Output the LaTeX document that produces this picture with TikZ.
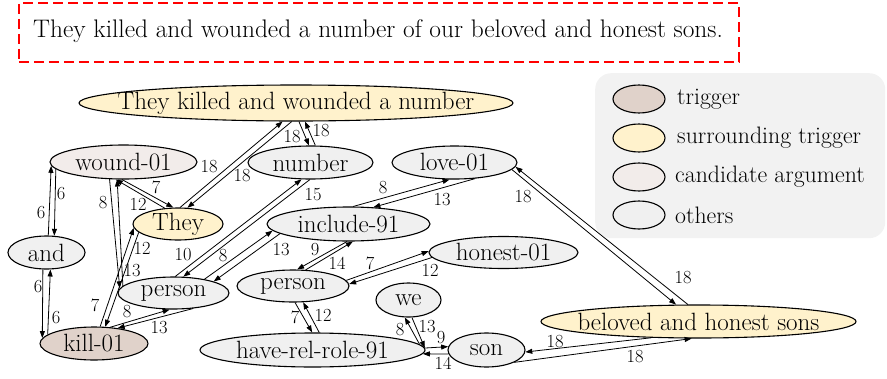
\documentclass[tikz,border=0pt]{standalone}
\usepackage{fontspec}
\usetikzlibrary{shapes.geometric,arrows.meta}

\definecolor{trig}{HTML}{E0D2CA}
\definecolor{surr}{HTML}{FFF2CC}
\definecolor{cand}{HTML}{F2ECEA}
\definecolor{oth}{HTML}{F0F0F0}
\definecolor{legbg}{HTML}{F2F2F2}

\newcommand\bigtxt{\fontsize{25}{29}\selectfont}
\newcommand\senttxt{\fontsize{25.4}{29}\selectfont}
\newcommand\legfont{\fontsize{23.8}{27}\selectfont}
\newcommand\smalltxt{\fontsize{18.5}{21}\selectfont}

\tikzset{
  amr/.style={ellipse, draw=black, line width=1.1pt, inner sep=0pt},
  sz/.style 2 args={minimum width=#1pt, minimum height=#2pt},
  edge/.style={-{Triangle[length=7pt,width=5pt]}, line width=0.8pt, black},
  elab/.style={font=\smalltxt, inner sep=0pt},
  legtxt/.style={anchor=west, inner sep=0pt, font=\legfont},
  every label/.style={font=\bigtxt},
}

\begin{document}
\begin{tikzpicture}[x=1pt, y=-1pt, font=\bigtxt]
\useasboundingbox (0,0) rectangle (887,378);

% sentence box
\node[draw=red, line width=1.6pt, dash pattern=on 10pt off 5pt, anchor=north west,
      minimum width=720pt, minimum height=59pt, inner sep=0pt] (sentbox) at (18,2) {};
\node[anchor=west, inner sep=0pt, font=\senttxt] (sent) at (33,31)
  {They killed and wounded a number of our beloved and honest sons.};

% legend
\node[fill=legbg, rounded corners=16pt, anchor=north west, minimum width=290pt,
      minimum height=165pt, inner sep=0pt] (legend) at (595,73) {};
\node[amr, fill=trig, sz={52}{28}] (lk1) at (639,99) {};
\node[amr, fill=surr, sz={52}{28}] (lk2) at (639,138) {};
\node[amr, fill=cand, sz={52}{28}] (lk3) at (639,177) {};
\node[amr, fill=oth,  sz={52}{28}] (lk4) at (639,215) {};
\node[legtxt] (lt1) at (677,99) {trigger};
\node[legtxt] (lt2) at (677,138) {surrounding trigger};
\node[legtxt] (lt3) at (675,177) {candidate argument};
\node[legtxt] (lt4) at (675,215) {others};

% graph nodes
\node[amr, fill=surr, sz={434}{36}, label=center:{They killed and wounded a number}] (tk) at (296,103) {};
\node[amr, fill=cand, sz={147}{34}, label=center:{wound-01}] (wound) at (123.5,162) {};
\node[amr, fill=surr, sz={90}{32},  label=center:{They}] (They) at (178,224) {};
\node[amr, fill=oth,  sz={77}{33},  label=center:{and}] (and) at (46.5,252.5) {};
\node[amr, fill=trig, sz={108}{33}, label=center:{kill-01}] (kill) at (94,343.5) {};
\node[amr, fill=oth,  sz={111}{32}, label=center:{person}] (pL) at (173.5,293) {};
\node[amr, fill=oth,  sz={125}{33}, label=center:{number}] (number) at (310.5,162.5) {};
\node[amr, fill=oth,  sz={125}{33}, label=center:{love-01}] (love) at (454.5,162.5) {};
\node[amr, fill=oth,  sz={163}{34}, label=center:{include-91}] (incl) at (348.5,224) {};
\node[amr, fill=oth,  sz={112}{32}, label=center:{person}] (pM) at (293,286) {};
\node[amr, fill=oth,  sz={149}{32}, label=center:{honest-01}] (honest) at (503.5,252.5) {};
\node[amr, fill=oth,  sz={65}{34},  label=center:{we}] (we) at (408.5,300) {};
\node[amr, fill=oth,  sz={225}{34}, label=center:{have-rel-role-91}] (have) at (312.5,350) {};
\node[amr, fill=oth,  sz={77}{34},  label=center:{son}] (son) at (486.5,350) {};
\node[amr, fill=surr, sz={315}{33}, label=center:{beloved and honest sons}] (bel) at (698.5,321.5) {};

% edges, one pair per relation
\draw[edge] (and.84.8) -- (wound.183.1);
\draw[edge] (wound.186.7) -- (and.65.6);
\draw[edge] (and.258) -- (kill.174.2);
\draw[edge] (kill.169) -- (and.283.7);
\draw[edge] (They.83.3) -- (tk.234.2);
\draw[edge] (tk.257.5) -- (They.60.6);
\draw[edge] (tk.279.5) -- (number.95.2);
\draw[edge] (number.74.7) -- (tk.296.6);
\draw[edge] (They.130.6) -- (wound.246.2);
\draw[edge] (wound.265.2) -- (They.106.4);
\draw[edge] (wound.231.5) -- (pL.175.8);
\draw[edge] (pL.172.1) -- (wound.250.1);
\draw[edge] (kill.70) -- (They.185.4);
\draw[edge] (They.192.2) -- (kill.56);
\draw[edge] (kill.45) -- (pL.257.7);
\draw[edge] (pL.322.4) -- (kill.33.1);
\draw[edge] (pL.84.6) -- (number.242.7);
\draw[edge] (number.268.3) -- (pL.59.3);
\draw[edge] (pL.24.6) -- (incl.185.7);
\draw[edge] (incl.188.8) -- (pL.16.6);
\draw[edge] (incl.75.2) -- (love.254.7);
\draw[edge] (love.322.7) -- (incl.34.7);
\draw[edge] (bel.122.5) -- (love.356.8);
\draw[edge] (love.353.7) -- (bel.143.7);
\draw[edge] (incl.265) -- (pM.76);
\draw[edge] (pM.52.4) -- (incl.284.8);
\draw[edge] (pM.6) -- (honest.179.5);
\draw[edge] (honest.184) -- (pM.2);
\draw[edge] (pM.277.1) -- (have.91.7);
\draw[edge] (have.69.1) -- (pM.302.5);
\draw[edge] (have.3.5) -- (we.258.4);
\draw[edge] (we.281.6) -- (have.1);
\draw[edge] (have.1.5) -- (son.175.5);
\draw[edge] (son.186.1) -- (have.358.5);
\draw[edge] (bel.199.2) -- (son.357);
\draw[edge] (son.336.6) -- (bel.248.5);

% edge labels
\node[elab] (l1a) at (41,213) {6};
\node[elab] (l1b) at (61,194) {6};
\node[elab] (l2a) at (38,287) {6};
\node[elab] (l2b) at (56,318) {6};
\node[elab] (l3a) at (209,167) {18};
\node[elab] (l3b) at (242,176) {18};
\node[elab] (l4a) at (292,137) {18};
\node[elab] (l4b) at (321,131) {18};
\node[elab] (l5a) at (156,187) {7};
\node[elab] (l5b) at (138,204) {12};
\node[elab] (l6a) at (103,203) {8};
\node[elab] (l6b) at (132,271) {13};
\node[elab] (l7a) at (142,248) {12};
\node[elab] (l7b) at (95,305) {7};
\node[elab] (l8a) at (127,312) {8};
\node[elab] (l8b) at (159,328) {13};
\node[elab] (l9a) at (183,255) {10};
\node[elab] (l9b) at (313,195) {15};
\node[elab] (l10a) at (223,256) {8};
\node[elab] (l10b) at (281,250) {13};
\node[elab] (l11a) at (383,188) {8};
\node[elab] (l11b) at (442,200) {13};
\node[elab] (l12a) at (523,197) {18};
\node[elab] (l12b) at (683,278) {18};
\node[elab] (l13a) at (315,250) {9};
\node[elab] (l13b) at (337,263) {14};
\node[elab] (l14a) at (370,263) {7};
\node[elab] (l14b) at (430,270) {12};
\node[elab] (l15a) at (295,317) {7};
\node[elab] (l15b) at (323,315) {12};
\node[elab] (l16a) at (400,330) {8};
\node[elab] (l16b) at (427,327) {13};
\node[elab] (l17a) at (441,338) {9};
\node[elab] (l17b) at (443,363) {14};
\node[elab] (l18a) at (555,342) {18};
\node[elab] (l18b) at (635,357) {18};
\end{tikzpicture}
\end{document}
